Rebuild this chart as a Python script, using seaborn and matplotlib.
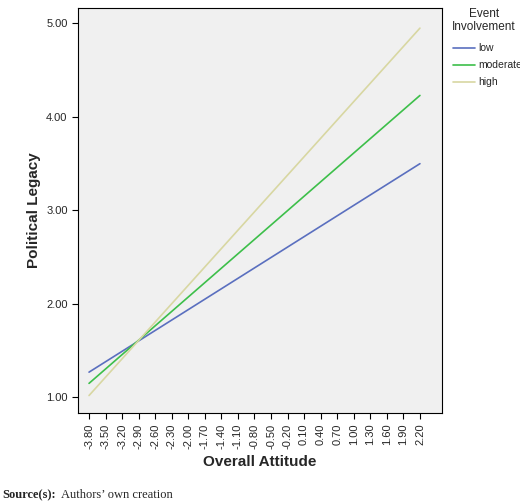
import matplotlib
matplotlib.use("Agg")
import matplotlib.pyplot as plt
import seaborn as sns
import numpy as np
import pandas as pd

sns.set_style("white")
plt.rcParams['font.family'] = ['Arial', 'Liberation Sans', 'DejaVu Sans']

x_ends = [-3.80, 2.20]
low_vals = [1.27, 3.50]
moderate_vals = [1.15, 4.23]
high_vals = [1.02, 4.95]
levels = ["low", "moderate", "high"]
colors = ["#5a6fbf", "#3dbf4a", "#d8d7a2"]
x_ticks = [round(-3.8 + 0.3 * i, 2) for i in range(21)]
y_ticks = [1.0, 2.0, 3.0, 4.0, 5.0]

df = pd.DataFrame({
    "x": x_ends * 3,
    "y": low_vals + moderate_vals + high_vals,
    "level": [l for l in levels for _ in range(2)],
})

fig = plt.figure(figsize=(5.20, 5.04), dpi=100)
ax = fig.add_axes([0.15, 0.18, 0.70, 0.805])
ax.set_facecolor("#f0f0f0")
sns.lineplot(data=df, x="x", y="y", hue="level", palette=colors, ax=ax, linewidth=1.2, legend=False)

ax.set_xlim(-4.0, 2.6)
ax.set_ylim(0.83, 5.17)
ax.set_xticks(x_ticks)
ax.set_xticklabels([f"{v:.2f}" for v in x_ticks], rotation=90, fontsize=8)
ax.set_yticks(y_ticks)
ax.set_yticklabels([f"{v:.2f}" for v in y_ticks], fontsize=8)
ax.tick_params(axis="both", length=4, color="black", direction="out", bottom=True, left=True)
for s in ax.spines.values():
    s.set_color("black")
    s.set_linewidth(0.8)
ax.set_xlabel("Overall Attitude", fontsize=11, fontweight="bold")
ax.set_ylabel("Political Legacy", fontsize=11, fontweight="bold")

fig.text(0.93, 0.985, "Event\nInvolvement", fontsize=8.5, va="top", ha="center",
         multialignment="center")
for i, (lab, c) in enumerate(zip(levels, colors)):
    yy = 0.905 - i * 0.034
    fig.add_artist(plt.Line2D([0.871, 0.913], [yy, yy], color=c, lw=1.2))
    fig.text(0.919, yy, lab, fontsize=7.5, va="center")

fig.text(0.005, 0.005, "Source(s):", fontsize=9, fontweight="bold",
         family=["Liberation Serif", "DejaVu Serif"], va="bottom")
fig.text(0.118, 0.005, "Authors\u2019 own creation", fontsize=9,
         family=["Liberation Serif", "DejaVu Serif"], va="bottom")

fig.savefig("out.png", dpi=100)
